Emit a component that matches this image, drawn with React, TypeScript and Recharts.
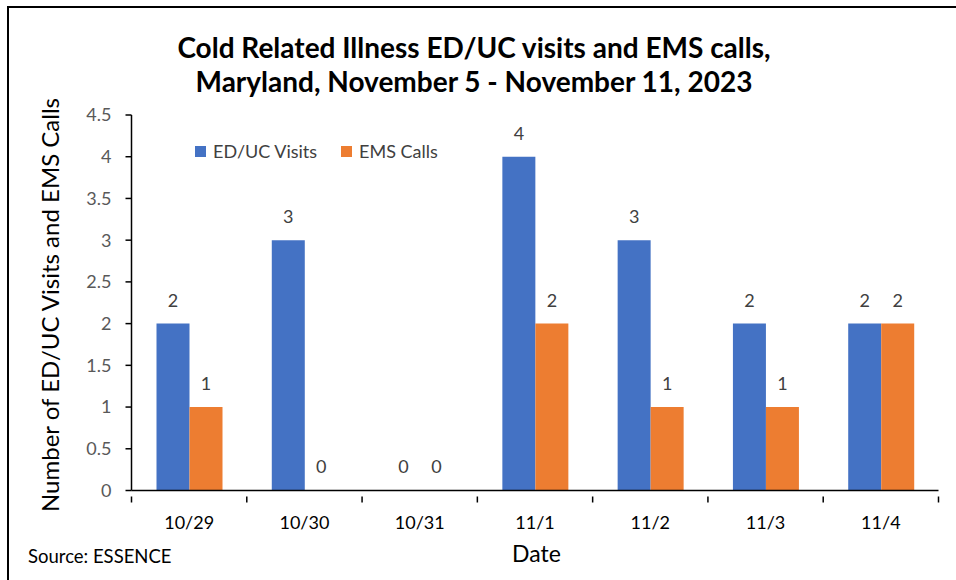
import { BarChart, Bar, XAxis, YAxis, Legend, LabelList } from 'recharts';

const dates = ['10/29', '10/30', '10/31', '11/1', '11/2', '11/3', '11/4'];
const edUcVisits = [2, 3, 0, 4, 3, 2, 2];
const emsCalls = [1, 0, 0, 2, 1, 1, 2];
const yTicks = [0, 0.5, 1, 1.5, 2, 2.5, 3, 3.5, 4, 4.5];

const data = dates.map((date, i) => ({
  date,
  visits: edUcVisits[i],
  calls: emsCalls[i],
}));

const FONT = 'Lato, "Open Sans", sans-serif';

// zero bars get a hairline height so their "0" label still shows
const keepZero = (value: any) => (value === 0 || (Array.isArray(value) && value[1] === 0) ? 0.01 : 0);

// x tick label plus the tick marks at the band edges
function DateTick(props: any) {
  const { x, y, payload, index } = props;
  const half = payload.offset ?? 0;
  const axisY = y - 20;
  return (
    <g>
      <line x1={x - half} x2={x - half} y1={axisY} y2={axisY + 6} stroke="#000" strokeWidth={1.5} />
      {index === dates.length - 1 && (
        <line x1={x + half} x2={x + half} y1={axisY} y2={axisY + 6} stroke="#000" strokeWidth={1.5} />
      )}
      <text x={x} y={y} dy="0.72em" textAnchor="middle" fill="#000" fontSize={18} fontFamily={FONT}>
        {payload.value}
      </text>
    </g>
  );
}

// value label above a bar
function ValueLabel(props: any) {
  const { x, y, width, value } = props;
  if (value == null) return null;
  return (
    <text x={x + width / 2} y={y - 17} textAnchor="middle" fill="#404040" fontSize={18} fontFamily={FONT}>
      {value}
    </text>
  );
}

function LegendContent({ payload }: any) {
  return (
    <div style={{ display: 'flex', fontFamily: FONT, fontSize: 18, color: '#404040' }}>
      {(payload || []).map((p: any) => (
        <div key={p.value} style={{ display: 'flex', alignItems: 'center', marginRight: 24 }}>
          <span style={{ width: 11, height: 11, background: p.color, marginRight: 7 }} />
          <span>{p.value}</span>
        </div>
      ))}
    </div>
  );
}

export default function App() {
  return (
    <div style={{ position: 'absolute', left: 0, top: 0, width: 956, height: 580, background: '#fff', fontFamily: FONT }}>
      {/* frame */}
      <div style={{ position: 'absolute', left: 7, top: 6, right: 0, height: 2, background: '#000' }} />
      <div style={{ position: 'absolute', left: 7, top: 6, width: 2, bottom: 0, background: '#000' }} />

      <div
        style={{
          position: 'absolute',
          left: 0,
          width: 948,
          top: 30,
          textAlign: 'center',
          fontWeight: 700,
          fontSize: 28,
          lineHeight: '34.4px',
          color: '#000',
        }}
      >
        <div>Cold Related Illness ED/UC visits and EMS calls,</div>
        <div>Maryland, November 5 - November 11, 2023</div>
      </div>

      <div
        style={{
          position: 'absolute',
          left: 50,
          top: 305,
          transform: 'translate(-50%, -50%) rotate(-90deg)',
          whiteSpace: 'nowrap',
          fontSize: 24,
          lineHeight: 1.2,
          color: '#000',
        }}
      >
        Number of ED/UC Visits and EMS Calls
      </div>

      <div style={{ position: 'absolute', left: 512, top: 540, fontSize: 23, lineHeight: 1.2, color: '#000' }}>Date</div>
      <div style={{ position: 'absolute', left: 28, top: 545, fontSize: 18.5, lineHeight: 1.2, color: '#000' }}>
        Source: ESSENCE
      </div>

      <div style={{ position: 'absolute', left: 0, top: 0 }}>
        <BarChart
          width={956}
          height={580}
          data={data}
          margin={{ top: 115, right: 17.5, bottom: 59.5, left: 10 }}
          barCategoryGap={25}
          barGap={0}
        >
          <XAxis
            dataKey="date"
            height={30}
            tickLine={false}
            axisLine={{ stroke: '#000', strokeWidth: 1.5 }}
            tick={<DateTick />}
            tickMargin={20}
            interval={0}
          />
          <YAxis
            width={121.5}
            domain={[0, 4.5]}
            ticks={yTicks}
            interval={0}
            axisLine={{ stroke: '#000', strokeWidth: 1.5 }}
            tickLine={{ stroke: '#000', strokeWidth: 1.5 }}
            tickSize={6}
            tickMargin={14}
            tick={{ fill: '#595959', fontSize: 18, fontFamily: FONT }}
          />
          <Legend
            layout="horizontal"
            verticalAlign="middle"
            align="center"
            content={<LegendContent />}
            wrapperStyle={{ position: 'absolute', left: 195, top: 140, width: 400 }}
          />
          <Bar dataKey="visits" name="ED/UC Visits" fill="#4472C4" minPointSize={keepZero} isAnimationActive={false}>
            <LabelList dataKey="visits" content={ValueLabel} />
          </Bar>
          <Bar dataKey="calls" name="EMS Calls" fill="#ED7D31" minPointSize={keepZero} isAnimationActive={false}>
            <LabelList dataKey="calls" content={ValueLabel} />
          </Bar>
        </BarChart>
      </div>
    </div>
  );
}
